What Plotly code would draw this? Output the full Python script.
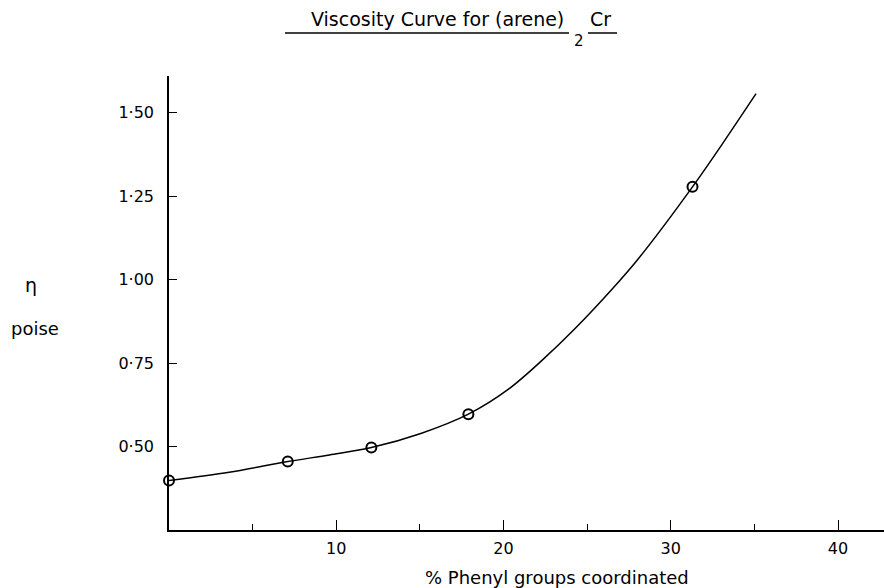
import plotly.graph_objects as go

# Measured data points (percent phenyl groups coordinated, viscosity in poise)
pts_x = [0.0, 7.1, 12.1, 17.9, 31.3]
pts_y = [0.398, 0.455, 0.497, 0.597, 1.278]

# Hand-drawn smooth curve
curve_x = [0.0, 3.6, 7.1, 9.6, 12.1, 15.1, 17.9, 20.3, 22.3, 24.25, 26.5, 28.1, 31.3, 33.2, 35.1]
curve_y = [0.398, 0.423, 0.455, 0.475, 0.497, 0.540, 0.597, 0.672, 0.758, 0.852, 0.972, 1.065, 1.278, 1.415, 1.557]

y_tickvals = [0.50, 0.75, 1.00, 1.25, 1.50]
y_ticktext = ["0·50", "0·75", "1·00", "1·25", "1·50"]
x_tickvals = [10, 20, 30, 40]
x_ticktext = ["10", "20", "30", "40"]
x_minor = [5, 15, 25, 35]

FONT = "DejaVu Sans"

fig = go.Figure()
fig.add_trace(go.Scatter(
    x=curve_x, y=curve_y, mode="lines",
    line=dict(color="black", width=1.5, shape="spline", smoothing=0.9),
    hoverinfo="skip", showlegend=False, cliponaxis=False,
))
fig.add_trace(go.Scatter(
    x=pts_x, y=pts_y, mode="markers",
    marker=dict(symbol="circle-open", size=10, color="black", line=dict(width=2, color="black")),
    showlegend=False, cliponaxis=False,
))

fig.update_layout(
    width=884, height=588,
    margin=dict(l=169, r=0, t=76, b=58),
    paper_bgcolor="white", plot_bgcolor="white",
    font=dict(family=FONT, color="black", size=14),
    xaxis=dict(
        range=[0, 42.75], showgrid=False, zeroline=False,
        showline=True, linecolor="black", linewidth=1.6,
        ticks="inside", ticklen=10, tickwidth=1.4, tickcolor="black",
        tickvals=x_tickvals, ticktext=x_ticktext,
        tickfont=dict(size=16, family=FONT), ticklabelstandoff=3,
        minor=dict(tickvals=x_minor, ticks="inside", ticklen=6, tickwidth=1.2, tickcolor="black"),
    ),
    yaxis=dict(
        range=[0.25, 1.61], showgrid=False, zeroline=False,
        showline=True, linecolor="black", linewidth=1.6,
        ticks="inside", ticklen=8, tickwidth=1.4, tickcolor="black",
        tickvals=y_tickvals, ticktext=y_ticktext,
        tickfont=dict(size=16, family=FONT), ticklabelstandoff=10,
    ),
)

def px(x):
    return (x - 169) / 715.0

def py(y):
    return (530 - y) / 454.0

annots = [
    dict(text="Viscosity Curve for (arene)", x=px(566), y=py(19), size=19, anchor="right"),
    dict(text="Cr", x=px(588), y=py(19), size=19, anchor="left"),
    dict(text="2", x=px(578.5), y=py(41), size=15, anchor="center"),
    dict(text="η", x=px(31), y=py(285), size=19, anchor="center"),
    dict(text="poise", x=px(35), y=py(328), size=18, anchor="center"),
    dict(text="% Phenyl groups coordinated", x=px(557), y=py(577), size=18, anchor="center"),
]
for a in annots:
    fig.add_annotation(text=a["text"], x=a["x"], y=a["y"], xref="paper", yref="paper",
                       xanchor=a["anchor"], yanchor="middle", showarrow=False,
                       font=dict(size=a["size"], family=FONT, color="black"))

for x0, x1 in [(285, 569), (588, 617)]:
    fig.add_shape(type="line", xref="paper", yref="paper",
                  x0=px(x0), x1=px(x1), y0=py(33), y1=py(33),
                  line=dict(color="black", width=1.5))

fig.write_html("out.html")
